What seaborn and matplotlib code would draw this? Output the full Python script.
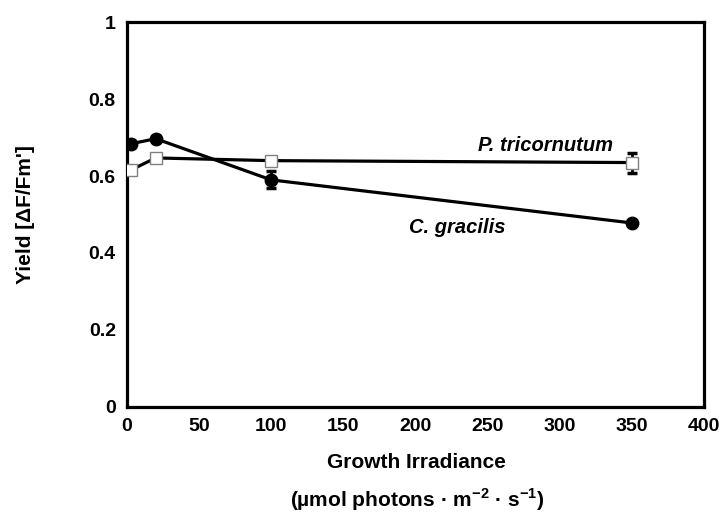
import pandas as pd
import matplotlib
matplotlib.use("Agg")
import matplotlib.pyplot as plt
import seaborn as sns

# values
irradiance = [3, 20, 100, 350]
c_gracilis = [0.684, 0.697, 0.590, 0.478]
c_gracilis_err = [0.008, 0.006, 0.022, 0.006]
p_tricornutum = [0.616, 0.647, 0.640, 0.635]
p_tricornutum_err = [0.008, 0.008, 0.008, 0.026]

x_ticks = [0, 50, 100, 150, 200, 250, 300, 350, 400]
y_ticks = [0, 0.2, 0.4, 0.6, 0.8, 1]
y_labels = ["0", "0.2", "0.4", "0.6", "0.8", "1"]

df = pd.DataFrame({
    "irr": irradiance * 2,
    "yield": c_gracilis + p_tricornutum,
    "err": c_gracilis_err + p_tricornutum_err,
    "species": ["C. gracilis"] * 4 + ["P. tricornutum"] * 4,
})

sns.set_theme(style="white")
plt.rcParams["font.family"] = ["Liberation Sans", "DejaVu Sans"]
plt.rcParams["font.weight"] = "bold"
plt.rcParams["text.color"] = "black"
plt.rcParams["axes.labelcolor"] = "black"
plt.rcParams["xtick.color"] = "black"
plt.rcParams["ytick.color"] = "black"
plt.rcParams["mathtext.fontset"] = "custom"
plt.rcParams["mathtext.rm"] = "Liberation Sans:bold"
plt.rcParams["mathtext.bf"] = "Liberation Sans:bold"

fig = plt.figure(figsize=(7.25, 5.15), dpi=100)
ax = fig.add_axes([0.175, 0.21, 0.796, 0.747])

styles = {
    "C. gracilis": dict(marker="o", mfc="black", mec="black", ms=9),
    "P. tricornutum": dict(marker="s", mfc="white", mec="#808080", ms=9),
}
for name, sub in df.groupby("species"):
    st = styles[name]
    ax.errorbar(sub["irr"], sub["yield"], yerr=sub["err"], fmt="none",
                ecolor="black", elinewidth=2, capsize=3.3, capthick=2.5, zorder=2)
    sns.lineplot(data=sub, x="irr", y="yield", ax=ax, color="black",
                 linewidth=2.3, marker=st["marker"], markersize=st["ms"],
                 markerfacecolor=st["mfc"], markeredgecolor=st["mec"],
                 markeredgewidth=1, zorder=3)

ax.text(290, 0.68, "P. tricornutum", style="italic", weight="bold",
        fontsize=14.5, ha="center", va="center")
ax.text(229, 0.465, "C. gracilis", style="italic", weight="bold",
        fontsize=14.5, ha="center", va="center")

ax.set_xlim(0, 400)
ax.set_ylim(0, 1)
ax.set_xticks(x_ticks)
ax.set_yticks(y_ticks)
ax.set_yticklabels(y_labels)
ax.tick_params(length=0, labelsize=14, pad=8)
for lab in ax.get_xticklabels() + ax.get_yticklabels():
    lab.set_fontweight("bold")
for s in ax.spines.values():
    s.set_color("black")
    s.set_linewidth(2.3)
ax.set_xlabel("")
ax.set_ylabel("Yield [ΔF/Fm']", fontsize=15, weight="bold")
ax.yaxis.set_label_coords(-0.16, 0.5, transform=ax.transAxes)

fig.text(0.575, 1 - 463 / 515, "Growth Irradiance", ha="center", va="center",
         fontsize=15, weight="bold")
fig.text(0.575, 1 - 500 / 515,
         r"(µmol photons · m$^{\mathbf{-2}}$ · s$^{\mathbf{-1}}$)",
         ha="center", va="center", fontsize=15, weight="bold")

fig.savefig("out.png", dpi=100)
